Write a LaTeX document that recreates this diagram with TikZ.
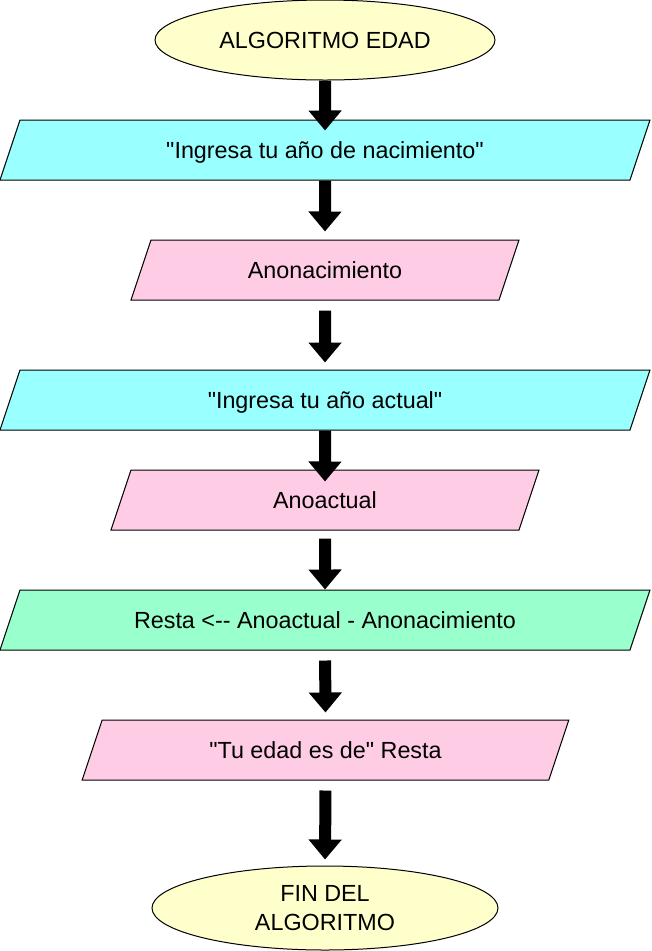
\documentclass[tikz,border=0pt]{standalone}
\usepackage{fontspec}
\setmainfont{Liberation Sans}[Ligatures=TeXOff]
\usepackage{tikz}
\usetikzlibrary{shapes.geometric,arrows.meta}
\definecolor{termfill}{HTML}{FFFFCC}
\definecolor{msgfill}{HTML}{99FFFF}
\definecolor{varfill}{HTML}{FFCCE6}
\definecolor{opfill}{HTML}{99FFCC}

\begin{document}
\begin{tikzpicture}[x=0.75pt,y=-0.75pt,
  every node/.style={font=\fontsize{17.5}{21.5}\selectfont},
  terminal/.style={ellipse,draw,line width=0.75pt,fill=termfill,inner sep=0pt,align=center},
  datos/.style={trapezium,draw,line width=0.75pt,trapezium left angle=71.57,trapezium right angle=108.43,
    trapezium stretches body,text height=12.5pt,text depth=0pt,inner ysep=16.25pt,minimum height=45pt},
  flecha/.style={line width=9pt,-{Triangle[width=24pt,length=15pt]}}]
  \useasboundingbox (0,0) rectangle (652,951);
  % Inicio
  \node[terminal,minimum width=255pt,minimum height=60pt] (inicio) at (325,40) {ALGORITMO EDAD};
  % Entradas
  \node[datos,fill=msgfill,minimum width=487.5pt] (msgnac) at (325,150) {"Ingresa tu año de nacimiento"};
  \node[datos,fill=varfill,minimum width=291pt] (anonac) at (325,270) {Anonacimiento};
  \node[datos,fill=msgfill,minimum width=487.5pt] (msgact) at (325,400) {"Ingresa tu año actual"};
  \node[datos,fill=varfill,minimum width=321pt] (anoact) at (325,500) {Anoactual};
  % Calculo
  \node[datos,fill=opfill,minimum width=487.5pt] (resta) at (325,620) {Resta <-- Anoactual - Anonacimiento};
  % Salida
  \node[datos,fill=varfill,minimum width=365pt] (salida) at (325.5,750) {"Tu edad es de" Resta};
  % Fin
  \node[terminal,minimum width=259.5pt,minimum height=63pt] (fin) at (325,908) {FIN DEL\\ALGORITMO};
  % Flechas
  \draw[flecha,shorten >=-8.25pt] (inicio.south) -- (msgnac.north);
  \draw[flecha,shorten >=6pt] (msgnac.south) -- (anonac.north);
  \draw[flecha,shorten <=7.5pt,shorten >=5.25pt] (anonac.south) -- (msgact.north);
  \draw[flecha,shorten >=-9pt] (msgact.south) -- (anoact.north);
  \draw[flecha,shorten <=6pt] (anoact.south) -- (resta.north);
  \draw[flecha,shorten <=7.5pt,shorten >=5.25pt] (resta.south) -- (salida.north);
  \draw[flecha,shorten <=7.5pt,shorten >=4.5pt] (salida.south) -- (fin.north);
\end{tikzpicture}
\end{document}
